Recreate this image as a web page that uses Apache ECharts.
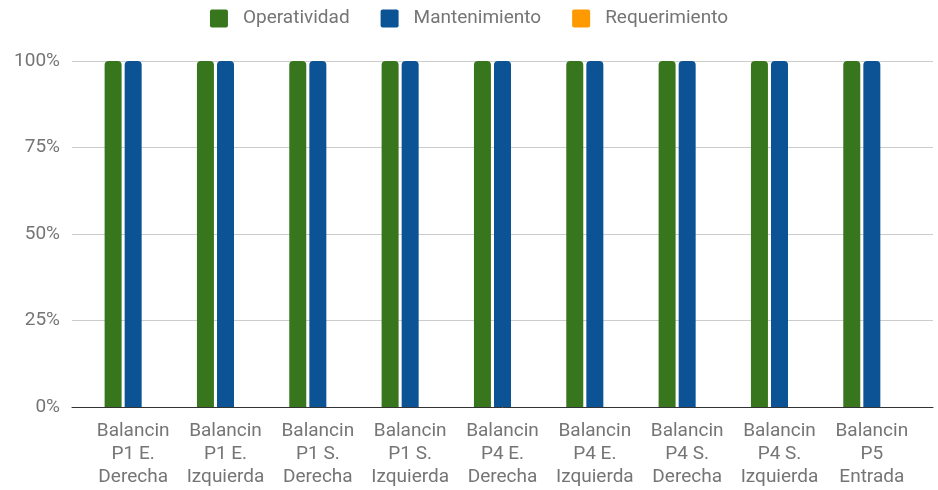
<!DOCTYPE html>
<html>
<head>
<meta charset="utf-8">
<script src="https://cdn.jsdelivr.net/npm/echarts@6/dist/echarts.min.js"></script>
<style>html,body{margin:0;padding:0;background:#fff}#c{width:938px;height:490px}</style>
</head>
<body>
<div id="c"></div>
<script>
const categories = [
  "Balancin\nP1 E.\nDerecha",
  "Balancin\nP1 E.\nIzquierda",
  "Balancin\nP1 S.\nDerecha",
  "Balancin\nP1 S.\nIzquierda",
  "Balancin\nP4 E.\nDerecha",
  "Balancin\nP4 E.\nIzquierda",
  "Balancin\nP4 S.\nDerecha",
  "Balancin\nP4 S.\nIzquierda",
  "Balancin\nP5\nEntrada"
];
const operatividad = [1, 1, 1, 1, 1, 1, 1, 1, 1];
const mantenimiento = [1, 1, 1, 1, 1, 1, 1, 1, 1];
const requerimiento = [0, 0, 0, 0, 0, 0, 0, 0, 0];
const yTicks = [0, 0.25, 0.5, 0.75, 1];

const chart = echarts.init(document.getElementById('c'));
const font = 'Roboto, "Noto Sans", sans-serif';
const barStyle = (c) => ({ color: c, borderRadius: [4, 4, 0, 0] });
chart.setOption({
  animation: false,
  textStyle: { fontFamily: font },
  legend: {
    top: 4,
    left: 'center',
    icon: 'path://M2,0 H16 Q18,0 18,2 V16 Q18,18 16,18 H2 Q0,18 0,16 V2 Q0,0 2,0 Z',
    itemWidth: 18,
    itemHeight: 18,
    itemGap: 31,
    textStyle: { color: '#757575', fontSize: 19, fontFamily: font, padding: [0, 0, 0, 10] },
    data: ['Operatividad', 'Mantenimiento', 'Requerimiento']
  },
  grid: [
    { left: 72, right: 5, top: 61, bottom: 83 },
    { left: 87, right: 20, top: 61, bottom: 83 }
  ],
  xAxis: [
    { gridIndex: 0, type: 'value', min: 0, max: 1,
      axisLabel: { show: false }, splitLine: { show: false }, axisTick: { show: false },
      axisLine: { show: true, onZero: false, lineStyle: { color: '#333', width: 1 } } },
    { gridIndex: 1, type: 'category', data: categories,
      axisLine: { show: false }, axisTick: { show: false },
      axisLabel: { color: '#757575', fontSize: 19, lineHeight: 23, margin: 13, interval: 0, fontFamily: font } }
  ],
  yAxis: [
    { gridIndex: 0, type: 'value', min: 0, max: 1, interval: 0.25,
      axisLine: { show: false }, axisTick: { show: false },
      axisLabel: { color: '#757575', fontSize: 19, margin: 12, fontFamily: font,
        formatter: (v) => yTicks.includes(v) ? Math.round(v * 100) + '%' : '' },
      splitLine: { lineStyle: { color: '#cccccc', width: 1 } } },
    { gridIndex: 1, type: 'value', min: 0, max: 1, show: false, splitLine: { show: false } }
  ],
  series: [
    { name: 'Operatividad', type: 'bar', xAxisIndex: 1, yAxisIndex: 1, data: operatividad,
      barWidth: 17, barGap: '18%', itemStyle: barStyle('#38761d') },
    { name: 'Mantenimiento', type: 'bar', xAxisIndex: 1, yAxisIndex: 1, data: mantenimiento,
      barWidth: 17, barGap: '18%', itemStyle: barStyle('#0b5394') },
    { name: 'Requerimiento', type: 'bar', xAxisIndex: 1, yAxisIndex: 1, data: requerimiento,
      barWidth: 17, barGap: '18%', itemStyle: barStyle('#ff9900') }
  ]
});
</script>
</body>
</html>
